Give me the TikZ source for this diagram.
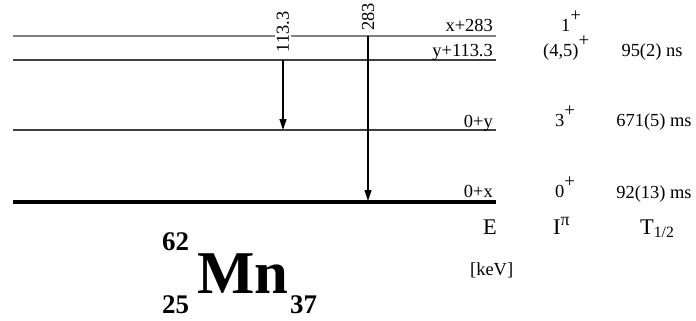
\documentclass[tikz,border=0pt]{standalone}
\usepackage{fontspec}
\setmainfont{Liberation Serif}
\usetikzlibrary{arrows.meta}

\newcommand{\spinp}{\raisebox{10bp}{\fontsize{19}{19}\selectfont+}}

\begin{document}
\begin{tikzpicture}[x=1bp, y=-1bp, every node/.style={inner sep=0pt},
    lvl/.style={line width=1.1bp, black!75},
    gamma/.style={line width=1.2bp, -{Triangle[length=11bp,width=7bp]}},
    txt/.style={font=\fontsize{18.5}{20}\selectfont},
    hdr/.style={font=\fontsize{22.5}{24}\selectfont}]
    \useasboundingbox (0,0) rectangle (696,320);

    % levels
    \draw[lvl, black!50] (13,36) -- (496,36);
    \draw[lvl] (13,60) -- (496,60);
    \draw[lvl] (13,130) -- (496,130);
    \draw[line width=4.5bp] (13,202) -- (496,202);

    \node[txt, anchor=base east] (e4) at (493,31) {x+283};
    \node[txt, anchor=base east] (e3) at (493,56) {y+113.3};
    \node[txt, anchor=base east] (e2) at (493,127) {0+y};
    \node[txt, anchor=base east] (e1) at (493,197) {0+x};

    \node[txt, anchor=base west] (s4) at (561,31) {1\spinp};
    \node[txt, anchor=base west] (s3) at (543,56) {(4,5)\spinp};
    \node[txt, anchor=base west] (s2) at (555,126) {3\spinp};
    \node[txt, anchor=base west] (s1) at (555,197) {0\spinp};

    \node[txt, anchor=base] (h3) at (652,56) {95(2) ns};
    \node[txt, anchor=base] (h2) at (654,126) {671(5) ms};
    \node[txt, anchor=base] (h1) at (654,198) {92(13) ms};

    % transitions
    \coordinate (g1a) at (283,60);
    \coordinate (g1b) at (283,130);
    \coordinate (g2a) at (368,36);
    \coordinate (g2b) at (368,201);
    \node[txt, rotate=90, fill=white, inner sep=2bp] (g1) at (283,32) {113.3};
    \node[txt, rotate=90, inner sep=2bp] (g2) at (368,17) {283};
    \draw[gamma] (g1a) -- (g1b);
    \draw[gamma] (g2a) -- (g2b);

    % column heads
    \node[hdr, anchor=base west] (hE) at (483,234) {E};
    \node[hdr, anchor=base west] (hI) at (553,234) {I\raisebox{9bp}{\fontsize{18}{18}\selectfont π}};
    \node[hdr, anchor=base west] (hT) at (640,234) {T\textsubscript{1/2}};
    \node[txt, anchor=base west] (unit) at (470,275) {[keV]};

    % nucleus
    \node[anchor=base west, font=\fontsize{61}{61}\selectfont\bfseries] (mn) at (197,293) {Mn};
    \node[anchor=base west, font=\fontsize{27}{27}\selectfont\bfseries] (ma) at (162,250) {62};
    \node[anchor=base west, font=\fontsize{27}{27}\selectfont\bfseries] (mz) at (162,313) {25};
    \node[anchor=base west, font=\fontsize{27}{27}\selectfont\bfseries] (mnn) at (290,313) {37};
\end{tikzpicture}
\end{document}
